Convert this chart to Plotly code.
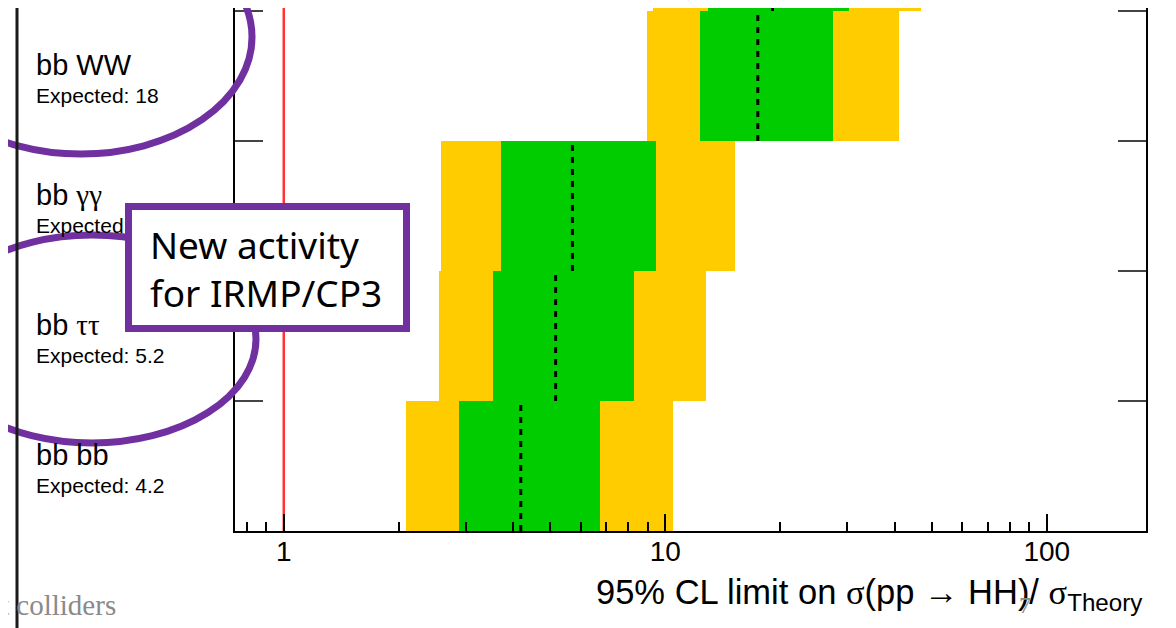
import math
import plotly.graph_objects as go

# ---------------- data (bottom row first) ----------------
channels = ["bb bb", "bb ττ", "bb γγ", "bb WW", ""]
expected_labels = ["4.2", "5.2", "5.7", "18", ""]
band2_lo = [2.09, 2.55, 2.58, 8.94, 9.28]
band1_lo = [2.875, 3.53, 3.70, 12.31, 12.92]
median = [4.18, 5.16, 5.71, 17.48, 19.1]
band1_hi = [6.73, 8.27, 9.44, 27.5, 30.3]
band2_hi = [10.46, 12.77, 15.2, 40.9, 46.7]
theory = 1.0
x_limits = [0.745, 182.0]
y_top = 4.023
x_major = [1, 10, 100]
x_major_text = ["1", "10", "100"]
x_minor = [d * 10 ** k for k in (-1, 0, 1) for d in range(2, 10)]

YELLOW = "#FFCC00"
GREEN = "#00CC00"
PURPLE = "#7030A0"

# figure size and plot area (figure pixels); page offset of the figure in the window
W, H = 1176, 628
OFF = 8
PL, PR, PT, PB = 227, 1138, 0, 523


def px(x):  # window pixel -> paper x
    return (x - OFF - PL) / (PR - PL)


def py(y):  # window pixel -> paper y
    return (PB - (y - OFF)) / (PB - PT)


fig = go.Figure()
rows = list(range(len(channels)))
yc = [r + 0.5 for r in rows]

fig.add_trace(go.Bar(orientation="h", y=yc, base=band2_lo,
                     x=[h - l for l, h in zip(band2_lo, band2_hi)], width=1.0,
                     marker=dict(color=YELLOW, line=dict(width=0)), showlegend=False))
fig.add_trace(go.Bar(orientation="h", y=yc, base=band1_lo,
                     x=[h - l for l, h in zip(band1_lo, band1_hi)], width=1.0,
                     marker=dict(color=GREEN, line=dict(width=0)), showlegend=False))

mx, my = [], []
for r, m in zip(rows, median):
    mx += [m, m, None]
    my += [r, r + 1, None]
fig.add_trace(go.Scatter(x=mx, y=my, mode="lines",
                         line=dict(color="black", width=3, dash="6px,6px"),
                         showlegend=False))
fig.add_trace(go.Scatter(x=[theory, theory], y=[0, y_top], mode="lines",
                         line=dict(color="#FF3333", width=2.5), showlegend=False))

fig.update_layout(
    width=W, height=H,
    margin=dict(l=PL, r=W - PR, t=PT, b=H - PB),
    paper_bgcolor="white", plot_bgcolor="white",
    barmode="overlay", bargap=0,
    font=dict(family="Liberation Sans, Arial", color="black"),
)
fig.update_xaxes(type="log", range=[math.log10(x_limits[0]), math.log10(x_limits[1])],
                 showgrid=False, zeroline=False, showline=True, linecolor="black", linewidth=2,
                 ticks="inside", ticklen=17, tickwidth=2, tickcolor="black",
                 tickvals=x_major, ticktext=x_major_text, tickfont=dict(size=28),
                 ticklabelstandoff=-6,
                 minor=dict(ticks="inside", ticklen=9, tickwidth=2, tickcolor="black",
                            tickvals=x_minor, showgrid=False))
fig.update_yaxes(range=[0, y_top], showgrid=False, zeroline=False, showline=True,
                 linecolor="black", linewidth=2, mirror="ticks",
                 ticks="inside", ticklen=28, tickwidth=2, tickcolor="#444",
                 tickvals=rows, showticklabels=False)

ann = []
for r, name, ex in zip(rows, channels, expected_labels):
    if not name:
        continue
    label = name.replace("γγ", "<span style='font-family:Liberation Serif'>γγ</span>")
    label = label.replace("ττ", "<span style='font-family:Liberation Serif'>ττ</span>")
    ann.append(dict(x=px(34), xref="paper", y=r + 0.5, yref="y", xanchor="left",
                    yanchor="bottom", yshift=-7, text=label, showarrow=False,
                    font=dict(size=29, family="Liberation Sans")))
    ann.append(dict(x=px(34), xref="paper", y=r + 0.5, yref="y", xanchor="left",
                    yanchor="top", yshift=-6, text="Expected: " + ex, showarrow=False,
                    font=dict(size=21, family="Liberation Sans")))

# axis title
ann.append(dict(x=px(1145), xref="paper", y=py(571), yref="paper", xanchor="right",
                yanchor="top", showarrow=False,
                text="95% CL limit on <span style='font-family:Liberation Serif'>σ</span>(pp → HH)/ "
                     "<span style='font-family:Liberation Serif'>σ</span><sub>Theory</sub>",
                font=dict(size=34.5, family="Liberation Sans")))
# slide footer / page number
ann.append(dict(x=px(-1), xref="paper", y=py(587), yref="paper", xanchor="left", yanchor="top",
                showarrow=False, text="t colliders",
                font=dict(size=29, family="Liberation Serif", color="#8a8a8a")))
ann.append(dict(x=px(1025), xref="paper", y=py(590), yref="paper", xanchor="center",
                yanchor="top", showarrow=False, text="7",
                font=dict(size=24, family="Liberation Serif", color="#8a8a8a")))
# callout box
ann.append(dict(x=px(125), xref="paper", y=py(203), yref="paper", xanchor="left", yanchor="top",
                showarrow=False, text=" ", width=271, height=115, borderpad=0,
                bgcolor="white", bordercolor=PURPLE, borderwidth=7))
ann.append(dict(x=px(148), xref="paper", y=py(268), yref="paper", xanchor="left",
                yanchor="middle", showarrow=False, align="left",
                text="New activity<br>for IRMP/CP3",
                font=dict(size=37, family="Noto Sans", color="black")))
fig.update_layout(annotations=ann)

shapes = [
    dict(type="circle", xref="paper", yref="paper",
         x0=px(81 - 171), x1=px(81 + 171), y0=py(37 + 117), y1=py(37 - 117),
         line=dict(color=PURPLE, width=7), layer="above"),
    dict(type="circle", xref="paper", yref="paper",
         x0=px(92 - 164), x1=px(92 + 164), y0=py(339 + 104), y1=py(339 - 104),
         line=dict(color=PURPLE, width=7), layer="above"),
    dict(type="line", xref="paper", yref="paper", x0=px(17), x1=px(17), y0=py(7), y1=py(640),
         line=dict(color="#1a1a1a", width=3), layer="above"),
    dict(type="line", xref="paper", yref="paper", x0=px(1174), x1=px(1174), y0=py(7), y1=py(640),
         line=dict(color="#333333", width=2), layer="above"),
]
fig.update_layout(shapes=shapes)

fig.write_html("out.html")
